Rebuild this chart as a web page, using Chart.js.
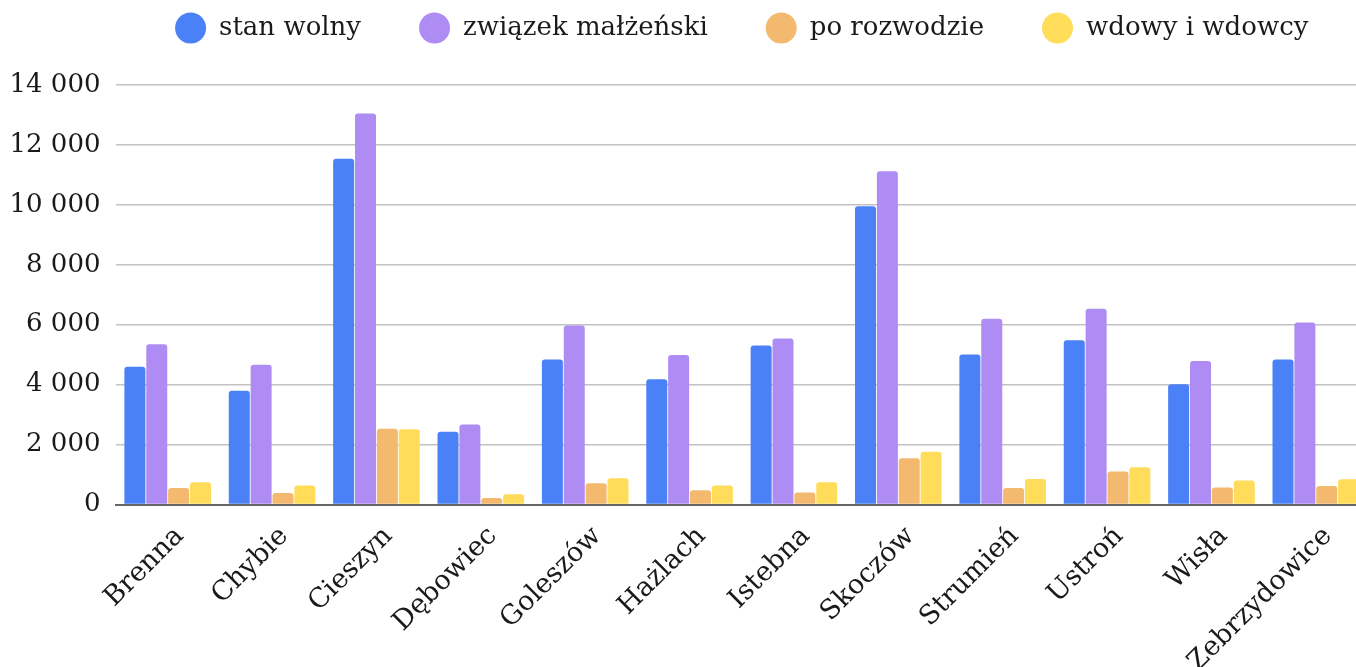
<!DOCTYPE html>
<html lang="pl">
<head>
<meta charset="utf-8">
<title>Stan cywilny – gminy powiatu cieszyńskiego</title>
<script src="https://cdn.jsdelivr.net/npm/chart.js@4/dist/chart.umd.min.js"></script>
<style>
  html, body { margin: 0; padding: 0; background: #ffffff; overflow: hidden; }
  #wrap { position: relative; width: 1368px; height: 667px; }
</style>
</head>
<body>
<div id="wrap"><canvas id="chart"></canvas></div>
<script>
// ---- data ----
const categories = ["Brenna", "Chybie", "Cieszyn", "Dębowiec", "Goleszów", "Hażlach", "Istebna", "Skoczów", "Strumień", "Ustroń", "Wisła", "Zebrzydowice"];
const seriesNames = ["stan wolny", "związek małżeński", "po rozwodzie", "wdowy i wdowcy"];
const stanWolny        = [4600, 3800, 11540, 2430, 4840, 4180, 5310, 9950, 5010, 5480, 4010, 4840];
const zwiazekMalzenski = [5350, 4660, 13050, 2670, 5970, 4990, 5540, 11120, 6200, 6530, 4790, 6070];
const poRozwodzie      = [550, 385, 2530, 220, 710, 475, 400, 1545, 550, 1100, 565, 615];
const wdowyIWdowcy     = [740, 630, 2510, 340, 880, 630, 740, 1760, 850, 1240, 805, 840];
const yTickValues = [0, 2000, 4000, 6000, 8000, 10000, 12000, 14000];

// ---- styles ----
const colors = ["#4a81f6", "#ae8cf3", "#f3b96e", "#ffdc5a"];
const FONT = "'DejaVu Serif', 'Liberation Serif', serif";

function fmt(v) {
  return String(v).replace(/\B(?=(\d{3})+(?!\d))/g, " ");
}

const legendSpacer = {
  id: "legendSpacer",
  beforeUpdate(chart) {
    const lg = chart.legend;
    if (lg && !lg._spaced) {
      const origFit = lg.fit;
      lg.fit = function () {
        const mw = this.maxWidth;
        this.maxWidth = 5000;
        origFit.call(this);
        this.maxWidth = mw;
        this.width = mw;
        this.height = 128;
      };
      lg._spaced = true;
    }
  }
};

const seriesValues = [stanWolny, zwiazekMalzenski, poRozwodzie, wdowyIWdowcy];

new Chart(document.getElementById("chart"), {
  type: "bar",
  data: {
    labels: categories,
    datasets: seriesNames.map((name, i) => ({
      label: name,
      data: seriesValues[i],
      backgroundColor: colors[i],
      borderWidth: 0,
      borderRadius: { topLeft: 3, topRight: 3, bottomLeft: 0, bottomRight: 0 },
      borderSkipped: "bottom",
      barPercentage: 0.96,
      categoryPercentage: 0.838
    }))
  },
  options: {
    responsive: true,
    maintainAspectRatio: false,
    animation: false,
    devicePixelRatio: 1,
    layout: { padding: { top: -43, left: 0, right: 0, bottom: 0 } },
    plugins: {
      legend: {
        display: true,
        position: "top",
        fullSize: false,
        labels: {
          usePointStyle: true,
          pointStyle: "circle",
          pointStyleWidth: 31,
          boxHeight: 22,
          padding: 58,
          color: "#1a1a1a",
          font: { family: FONT, size: 26 }
        }
      },
      tooltip: { enabled: false }
    },
    scales: {
      x: {
        grid: { display: false, drawTicks: false },
        border: { display: true, color: "#666666", width: 2 },
        ticks: {
          autoSkip: false,
          minRotation: 45,
          maxRotation: 45,
          padding: 16,
          labelOffset: 12,
          color: "#1a1a1a",
          font: { family: FONT, size: 27 }
        },
        afterFit(scale) { scale.height = 162.5; }
      },
      y: {
        min: 0,
        max: 14000,
        afterBuildTicks(scale) { scale.ticks = yTickValues.map(v => ({ value: v })); },
        grid: {
          drawTicks: false,
          lineWidth: 1.5,
          color: (ctx) => (ctx.tick && ctx.tick.value === 0) ? "rgba(0,0,0,0)" : "#c2c2c2"
        },
        border: { display: false },
        ticks: {
          padding: 15,
          color: "#1a1a1a",
          font: { family: FONT, size: 26 },
          callback: (v) => fmt(v)
        },
        afterFit(scale) { scale.width = 115.5; }
      }
    }
  },
  plugins: [legendSpacer]
});
</script>
</body>
</html>
